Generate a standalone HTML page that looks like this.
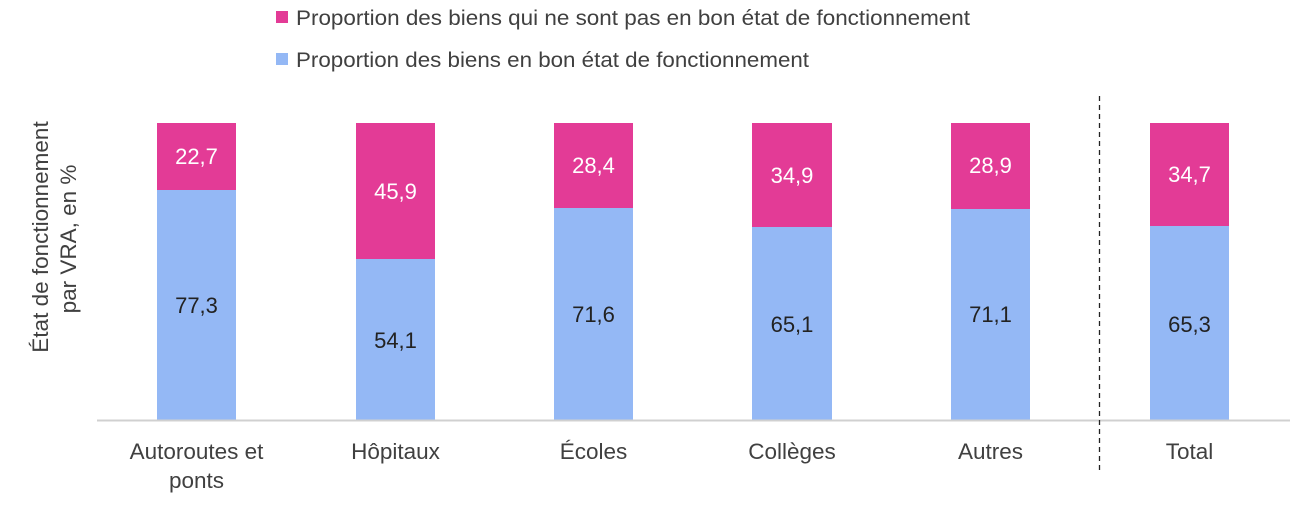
<!DOCTYPE html>
<html><head><meta charset="utf-8"><style>
body{margin:0;background:#fff}
svg text{font-family:"Liberation Sans",Arial,sans-serif}
</style></head><body>
<svg width="1300" height="507" xmlns="http://www.w3.org/2000/svg">
<rect x="276" y="11" width="12" height="12" fill="#e33b96"/>
<text x="296" y="25" font-size="21" fill="#404040" textLength="674" lengthAdjust="spacingAndGlyphs">Proportion des biens qui ne sont pas en bon état de fonctionnement</text>
<rect x="276" y="53" width="12" height="12" fill="#94b8f5"/>
<text x="296" y="67" font-size="21" fill="#404040" textLength="513" lengthAdjust="spacingAndGlyphs">Proportion des biens en bon état de fonctionnement</text>
<text transform="translate(48,237) rotate(-90)" font-size="22.5" fill="#404040" text-anchor="middle">État de fonctionnement</text>
<text transform="translate(76,239) rotate(-90)" font-size="22.5" fill="#404040" text-anchor="middle">par VRA, en %</text>
<g font-size="22" text-anchor="middle">
<rect x="157" y="123" width="79" height="67" fill="#e33b96"/><rect x="157" y="190" width="79" height="230" fill="#94b8f5"/>
<text x="196.5" y="164" fill="#fff">22,7</text><text x="196.5" y="313" fill="#222">77,3</text>
<rect x="356" y="123" width="79" height="136" fill="#e33b96"/><rect x="356" y="259" width="79" height="161" fill="#94b8f5"/>
<text x="395.5" y="199" fill="#fff">45,9</text><text x="395.5" y="348" fill="#222">54,1</text>
<rect x="554" y="123" width="79" height="85" fill="#e33b96"/><rect x="554" y="208" width="79" height="212" fill="#94b8f5"/>
<text x="593.5" y="173" fill="#fff">28,4</text><text x="593.5" y="322" fill="#222">71,6</text>
<rect x="752" y="123" width="80" height="104" fill="#e33b96"/><rect x="752" y="227" width="80" height="193" fill="#94b8f5"/>
<text x="792" y="183" fill="#fff">34,9</text><text x="792" y="332" fill="#222">65,1</text>
<rect x="951" y="123" width="79" height="86" fill="#e33b96"/><rect x="951" y="209" width="79" height="211" fill="#94b8f5"/>
<text x="990.5" y="173" fill="#fff">28,9</text><text x="990.5" y="322" fill="#222">71,1</text>
<rect x="1150" y="123" width="79" height="103" fill="#e33b96"/><rect x="1150" y="226" width="79" height="194" fill="#94b8f5"/>
<text x="1189.5" y="182" fill="#fff">34,7</text><text x="1189.5" y="332" fill="#222">65,3</text>
</g>
<line x1="97" y1="420.5" x2="1290" y2="420.5" stroke="#d0d0d0" stroke-width="2"/>
<line x1="1099.5" y1="96" x2="1099.5" y2="470" stroke="#222" stroke-width="1.3" stroke-dasharray="5,4"/>
<g font-size="22.5" fill="#404040" text-anchor="middle">
<text x="196.5" y="459">Autoroutes et</text><text x="196.5" y="488">ponts</text>
<text x="395.5" y="459">Hôpitaux</text>
<text x="593.5" y="459">Écoles</text>
<text x="792" y="459">Collèges</text>
<text x="990.5" y="459">Autres</text>
<text x="1189.5" y="459">Total</text>
</g>
</svg>
</body></html>
